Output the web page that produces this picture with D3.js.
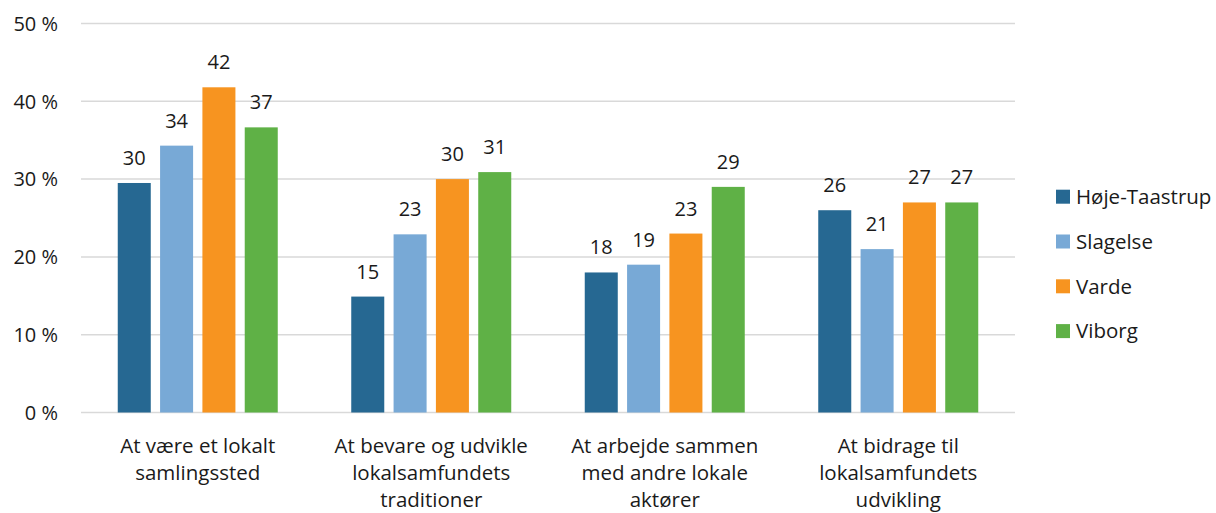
<!DOCTYPE html>
<html><head><meta charset="utf-8">
<script src="https://cdn.jsdelivr.net/npm/d3@7"></script>
<style>
body{margin:0;background:#fff;}
text{font-family:"Open Sans",Lato,sans-serif;fill:#1a1a1a;}
</style></head>
<body><svg id="c" width="1216" height="513"></svg>
<script>
const categories = ["At være et lokalt samlingssted","At bevare og udvikle lokalsamfundets traditioner","At arbejde sammen med andre lokale aktører","At bidrage til lokalsamfundets udvikling"];
const categoryLines = [["At være et lokalt","samlingssted"],["At bevare og udvikle","lokalsamfundets","traditioner"],["At arbejde sammen","med andre lokale","aktører"],["At bidrage til","lokalsamfundets","udvikling"]];
const series = ["Høje-Taastrup","Slagelse","Varde","Viborg"];
const hojeTaastrup = [29.5, 14.9, 18, 26];
const slagelse = [34.3, 22.9, 19, 21];
const varde = [41.8, 30.0, 23, 27];
const viborg = [36.65, 30.9, 29, 27];
const colors = ["#266892","#78a9d6","#f79420","#5fb146"];
const yTicks = [0,10,20,30,40,50];
const tickLabels = ["0 %","10 %","20 %","30 %","40 %","50 %"];

const values = [hojeTaastrup, slagelse, varde, viborg];
const svg = d3.select("#c");
const x0 = d3.scaleBand().domain(categories).range([81,1015]).padding(0);
const bw = x0.bandwidth();
const x1 = d3.scaleBand().domain(series).range([(bw-160)/2,(bw+160)/2]).paddingInner(0.22).paddingOuter(0);
const y = d3.scaleLinear().domain([0,50]).range([412.5,23.5]);

// grid
svg.append("g").selectAll("line").data(yTicks).join("line")
  .attr("x1",81).attr("x2",1015).attr("y1",d=>y(d)).attr("y2",d=>y(d))
  .attr("stroke","#d9d9d9").attr("stroke-width",1.5);
svg.append("g").selectAll("text").data(yTicks).join("text")
  .attr("x",58).attr("y",d=>y(d)).attr("dy","0.36em").attr("text-anchor","end")
  .style("font-size","20px").text((d,i)=>tickLabels[i]);

// bars
const g = svg.append("g");
categories.forEach((c,ci)=>{
  series.forEach((s,si)=>{
    const v = values[si][ci];
    g.append("rect").attr("x",x0(c)+x1(s)).attr("width",x1.bandwidth())
      .attr("y",y(v)).attr("height",y(0)-y(v)).attr("fill",colors[si]);
    g.append("text").attr("x",x0(c)+x1(s)+x1.bandwidth()/2).attr("y",y(v)-18)
      .attr("text-anchor","middle").style("font-size","20px").text(d3.format(".0f")(v));
  });
  const t = svg.append("text").attr("text-anchor","middle").style("font-size","20.5px");
  categoryLines[ci].forEach((ln,li)=>{
    t.append("tspan").attr("x",x0(c)+bw/2).attr("y",453+li*27).text(ln);
  });
});

// legend
const lg = svg.append("g");
series.forEach((s,i)=>{
  const cy = 196.7 + i*44.8;
  lg.append("rect").attr("x",1056).attr("y",cy-7).attr("width",14).attr("height",14).attr("fill",colors[i]);
  lg.append("text").attr("x",1076).attr("y",cy).attr("dy","0.36em").style("font-size","20.5px").text(s);
});
</script></body></html>
